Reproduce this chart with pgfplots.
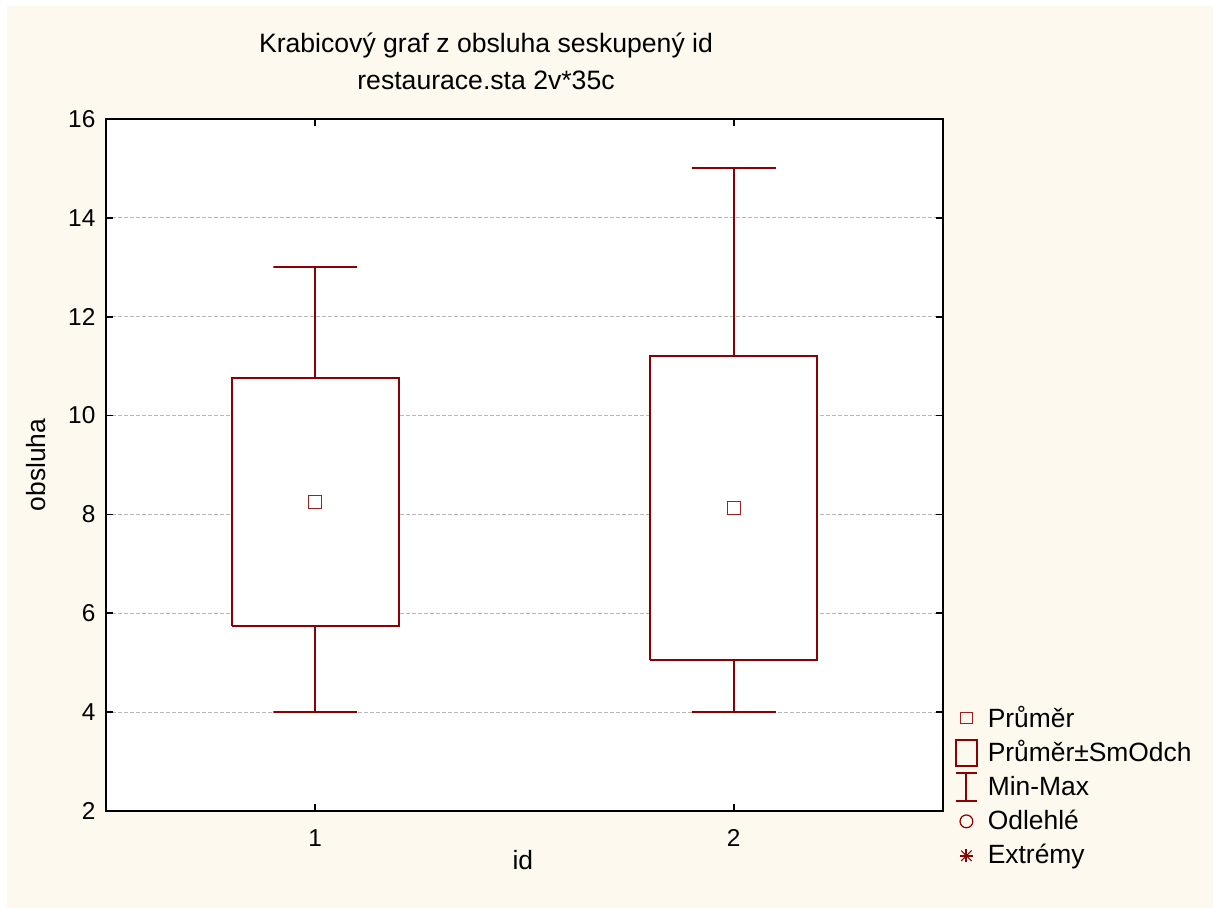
\documentclass[border=0pt]{standalone}
\usepackage{pgfplots}
\pgfplotsset{compat=1.18}
\usepackage{fontspec}
\setmainfont{Liberation Sans}
\definecolor{darkred}{RGB}{139,0,0}
\definecolor{meanred}{RGB}{160,30,30}
\definecolor{bgcream}{RGB}{254,249,238}
\begin{document}
\begin{tikzpicture}
\useasboundingbox (0,0) rectangle (606.5pt,454pt);
\fill[white] (-2pt,-2pt) rectangle (608.5pt,456pt);
\fill[bgcream] (3.5pt,-2pt) rectangle (608.5pt,451pt);
\begin{axis}[
  at={(53pt,48.5pt)}, anchor=south west,
  scale only axis, width=418.5pt, height=346pt,
  xmin=0.5, xmax=2.5, ymin=2, ymax=16,
  xtick={1,2}, ytick={2,4,6,8,10,12,14,16},
  tick align=inside, major tick length=3.5pt,
  tick style={black, line width=0.9pt},
  axis line style={black, line width=1.1pt},
  axis background/.style={fill=white},
  ymajorgrids,
  grid style={gray!55, line width=0.5pt, dash pattern=on 2pt off 1pt},
  /pgf/number format/assume math mode=true,
  ticklabel style={font=\fontsize{12.2}{15}\selectfont},
  yticklabel style={xshift=-1.8pt},
  xticklabel style={yshift=-5.6pt},
  xlabel={id}, ylabel={obsluha},
  label style={font=\fontsize{13.2}{15}\selectfont},
  xlabel style={at={(axis description cs:0.498,-0.0708)}, anchor=center},
  ylabel style={at={(axis description cs:-0.0836,0.5)}, anchor=center},
  legend style={draw=none, fill=none, inner sep=0pt, outer sep=0pt,
    at={(axis description cs:1.01434,0.159)}, anchor=north west,
    font=\fontsize{13.2}{15}\selectfont, column sep=5pt, row sep=0pt,
    nodes={inner sep=0pt, minimum height=17.2pt}},
  legend cell align=left,
]
% boxes: mean +- SD
\addplot[draw=darkred, fill=white, line width=1pt, forget plot]
  coordinates {(0.8,5.74) (1.2,5.74) (1.2,10.76) (0.8,10.76) (0.8,5.74)};
\addplot[draw=darkred, fill=white, line width=1pt, forget plot]
  coordinates {(1.8,5.06) (2.2,5.06) (2.2,11.2) (1.8,11.2) (1.8,5.06)};
% whiskers: min-max
\addplot[draw=darkred, line width=1pt, forget plot]
  coordinates {(1,10.76) (1,13) (0.9,13) (1.1,13)};
\addplot[draw=darkred, line width=1pt, forget plot]
  coordinates {(1,5.74) (1,4) (0.9,4) (1.1,4)};
\addplot[draw=darkred, line width=1pt, forget plot]
  coordinates {(2,11.2) (2,15) (1.9,15) (2.1,15)};
\addplot[draw=darkred, line width=1pt, forget plot]
  coordinates {(2,5.06) (2,4) (1.9,4) (2.1,4)};
% means
\addplot[only marks, mark=square, mark size=3.15pt, forget plot,
  mark options={draw=meanred, line width=0.5pt, fill=white}]
  coordinates {(1,8.25) (2,8.13)};
% legend
\addlegendimage{legend image code/.code={
  \draw[meanred, line width=0.5pt] (2.6pt,-2.9pt) rectangle (8.4pt,2.9pt);}}
\addlegendentry{Průměr}
\addlegendimage{legend image code/.code={
  \draw[darkred, line width=1pt] (0.3pt,-6.5pt) rectangle (10.7pt,6.5pt);}}
\addlegendentry{Průměr±SmOdch}
\addlegendimage{legend image code/.code={
  \draw[darkred, line width=1pt] (0.3pt,-6.8pt) -- (10.7pt,-6.8pt)
     (5.5pt,-6.8pt) -- (5.5pt,6.8pt) (0.3pt,6.8pt) -- (10.7pt,6.8pt);}}
\addlegendentry{Min-Max}
\addlegendimage{legend image code/.code={
  \draw[darkred, line width=0.6pt] (5.5pt,0pt) circle (3.2pt);}}
\addlegendentry{Odlehlé}
\addlegendimage{legend image code/.code={
  \draw[darkred, line width=1pt] (5.5pt,-3.3pt) -- (5.5pt,3.3pt)
     (2.3pt,0pt) -- (8.7pt,0pt);
  \draw[darkred, line width=0.5pt] (2.9pt,-2.6pt) -- (8.1pt,2.6pt)
     (2.9pt,2.6pt) -- (8.1pt,-2.6pt);}}
\addlegendentry{Extrémy}
\end{axis}
\node[anchor=base, font=\fontsize{13.3}{15}\selectfont] at (243pt,427.85pt) {Krabicový graf z obsluha seskupený id};
\node[anchor=base, font=\fontsize{13.3}{15}\selectfont] at (243pt,409pt) {restaurace.sta 2v*35c};
\end{tikzpicture}
\end{document}
